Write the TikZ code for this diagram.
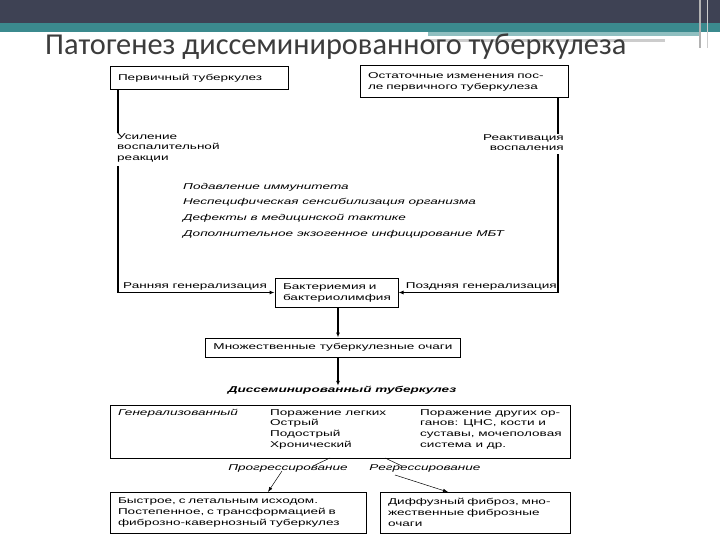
\documentclass[tikz,border=0pt]{standalone}
\usepackage{fontspec}
\setmainfont{Liberation Sans}
\newfontfamily\titlefont{Carlito}
\newfontfamily\diagfont[FakeStretch=1.6]{Liberation Sans}
\usetikzlibrary{arrows.meta}
\definecolor{headdark}{HTML}{3E4254}
\definecolor{headteal}{HTML}{3B8A8E}
\definecolor{headlight}{HTML}{8FBFC0}
\definecolor{titlegray}{HTML}{3C3C3C}
\begin{document}
\begin{tikzpicture}[
  x=1bp,
  y=-1bp,
  framebox/.style={draw=black,line width=1pt,inner xsep=8bp,inner ysep=0pt,
    align=left,font=\diagfont\fontsize{8.5}{11}\selectfont},
  plaintext/.style={inner sep=0pt,align=left,
    font=\diagfont\fontsize{8.5}{11}\selectfont},
  listtext/.style={plaintext,font=\diagfont\itshape\fontsize{8.5}{11}\selectfont},
  flowline/.style={draw=black,line width=1.3pt},
  flowarrow/.style={flowline,-{Latex[length=5bp,width=4bp]}},
  fineline/.style={draw=black,line width=0.5pt},
  finearrow/.style={fineline,-{Latex[length=5bp,width=3.5bp]}}
]
  \useasboundingbox (0,0) rectangle (720,540);
  \fill[white] (0,0) rectangle (720,540);

  % slide header
  \fill[headdark] (0,0) rectangle (720,23);
  \fill[headteal] (0,23) rectangle (720,32);
  \fill[headlight] (428,32) rectangle (700,36);
  \fill[black!20] (428,39) rectangle (665,42);
  \draw[black!30,line width=1.5pt] (700,0) -- (700,48);
  \draw[black!20,line width=1pt] (707,0) -- (707,48);
  \node[anchor=base west,inner sep=0pt,text=titlegray,
    font=\titlefont\fontsize{30.5}{32}\selectfont] (title) at (45,55)
    {Патогенез диссеминированного туберкулеза};

  % top boxes
  \node[framebox,minimum width=178bp,minimum height=23bp,text width=162bp]
    (prim) at (199,78.5) {Первичный туберкулез};
  \node[framebox,minimum width=208bp,minimum height=32bp,text width=192bp]
    (resid) at (464,82) {Остаточные изменения пос-\\ле первичного туберкулеза};

  % side branches
  \coordinate (lefttop) at (118,90);
  \coordinate (righttop) at (558,98);
  \node[plaintext,anchor=north west] (enhance) at (117,133)
    {Усиление\\воспалительной\\реакции};
  \node[plaintext,anchor=north east,align=right] (react) at (564,134)
    {Реактивация\\воспаления};

  % factors
  \node[listtext,anchor=west] (fac1) at (183,187) {Подавление иммунитета};
  \node[listtext,anchor=west] (fac2) at (183,202.5)
    {Неспецифическая сенсибилизация организма};
  \node[listtext,anchor=west] (fac3) at (183,218) {Дефекты в медицинской тактике};
  \node[listtext,anchor=west] (fac4) at (183,234)
    {Дополнительное экзогенное инфицирование МБТ};

  % bacteremia
  \node[framebox,minimum width=123bp,minimum height=29bp,text width=107bp]
    (bact) at (336.5,292.5) {Бактериемия и\\бактериолимфия};
  \node[plaintext,anchor=base west] (early) at (123,288) {Ранняя генерализация};
  \node[plaintext,anchor=base east] (late) at (557,288) {Поздняя генерализация};

  \draw[flowline] (lefttop) -- (enhance.north -| lefttop);
  \draw[flowarrow] (enhance.south -| lefttop) ++(0,3) |- (bact.west);
  \draw[flowline] (righttop) -- (react.north -| righttop);
  \draw[flowarrow] (react.south -| righttop) ++(0,3) |- (bact.east);

  % foci and result
  \node[framebox,minimum width=250bp,minimum height=19bp,align=center]
    (foci) at (333,347.5) {Множественные туберкулезные очаги};
  \node[plaintext,font=\diagfont\bfseries\itshape\fontsize{8.5}{11}\selectfont]
    (dissem) at (342,390) {Диссеминированный туберкулез};
  \draw[flowarrow] (bact.south -| 338,0) -- (foci.north -| 338,0);
  \draw[flowarrow] (foci.south -| 338,0) -- (dissem.north -| 338,0);

  % forms
  \node[draw=black,line width=1pt,minimum width=460bp,minimum height=53bp,
    inner sep=0pt] (forms) at (340,431.5) {};
  \node[listtext,anchor=north west] (general) at (118,409) {Генерализованный};
  \node[plaintext,anchor=north west] (lungs) at (270,409)
    {Поражение легких\\Острый\\Подострый\\Хронический};
  \node[plaintext,anchor=north west] (organs) at (420,409)
    {Поражение других ор-\\ганов: ЦНС, кости и\\суставы, мочеполовая\\система и др.};

  % course
  \node[listtext] (progress) at (288,468) {Прогрессирование};
  \node[listtext] (regress) at (425,468) {Регрессирование};
  \node[framebox,minimum width=256bp,minimum height=41bp,text width=240bp]
    (fatal) at (238,512.5)
    {Быстрое, с летальным исходом.\\Постепенное, с трансформацией в\\фиброзно-кавернозный туберкулез};
  \node[framebox,minimum width=190bp,minimum height=41bp,text width=174bp]
    (fibrosis) at (475,512.5)
    {Диффузный фиброз, мно-\\жественные фиброзные\\очаги};

  \coordinate (progtop) at (330,458);
  \coordinate (progmid) at (313,466);
  \coordinate (progbot) at (282,471);
  \coordinate (progend) at (268,492);
  \coordinate (regtop) at (385,458);
  \coordinate (regmid) at (402,466);
  \coordinate (regbot) at (395,475);
  \coordinate (regend) at (448,492);
  \draw[fineline] (progtop) -- (progmid);
  \draw[finearrow] (progbot) -- (progend);
  \draw[fineline] (regtop) -- (regmid);
  \draw[finearrow] (regbot) -- (regend);
\end{tikzpicture}
\end{document}
